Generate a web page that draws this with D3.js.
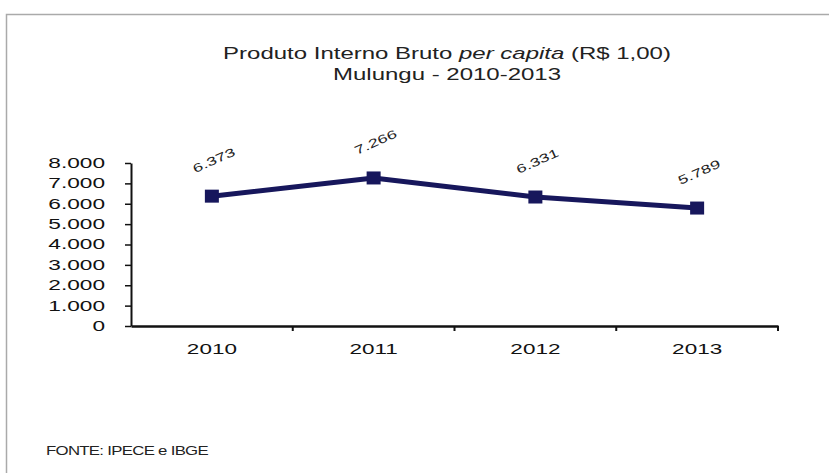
<!DOCTYPE html>
<html>
<head>
<meta charset="utf-8">
<script src="https://d3js.org/d3.v7.min.js"></script>
<style>
  body { margin: 0; background: #fff; }
  text { font-family: "Liberation Sans", Arial, sans-serif; }
</style>
</head>
<body>
<svg id="chart" width="829" height="473"></svg>
<script>
// data
var years = ["2010", "2011", "2012", "2013"];
var pibPerCapita = [6373, 7266, 6331, 5789];
var yTicks = [0, 1000, 2000, 3000, 4000, 5000, 6000, 7000, 8000];

var svg = d3.select("#chart");
var ptBR = d3.formatLocale({decimal: ",", thousands: ".", grouping: [3], currency: ["R$", ""]});
var fmt = ptBR.format(",.0f");
var sx = 1.5; // the original picture is stretched sideways

// frame
svg.append("rect")
   .attr("x", 6.5).attr("y", 14.5)
   .attr("width", 840).attr("height", 480)
   .attr("fill", "none").attr("stroke", "#aaa").attr("stroke-width", 1.5);

var plotLeft = 131, plotRight = 778, plotTop = 163, plotBottom = 326;

var x = d3.scaleBand().domain(years).range([plotLeft, plotRight]);
var y = d3.scaleLinear().domain([0, 8000]).range([plotBottom, plotTop]);

// title
var title = svg.append("text")
   .attr("transform", "translate(447,59) scale(" + sx + ",1)")
   .attr("text-anchor", "middle").attr("font-size", 16).attr("fill", "#222");
title.append("tspan").text("Produto Interno Bruto ");
title.append("tspan").attr("font-style", "italic").text("per capita");
title.append("tspan").text(" (R$ 1,00)");
svg.append("text")
   .attr("transform", "translate(447,80) scale(" + sx + ",1)")
   .attr("text-anchor", "middle").attr("font-size", 16).attr("fill", "#222")
   .text("Mulungu - 2010-2013");

// y axis
var ySx = 1.62;
var yAxis = svg.append("g")
   .attr("transform", "translate(" + plotLeft + ",0)")
   .call(d3.axisLeft(y).tickValues(yTicks).tickFormat(fmt).tickSize(6).tickSizeOuter(0));
yAxis.select(".domain").attr("stroke", "#111").attr("stroke-width", 2);
yAxis.selectAll(".tick line").attr("stroke", "#111").attr("stroke-width", 1.5);
yAxis.selectAll(".tick text").attr("font-size", 14).attr("fill", "#111")
   .attr("x", -26 / ySx).attr("transform", "scale(" + ySx + ",1)")
   .attr("font-family", "Liberation Sans, Arial, sans-serif");

// x axis
var xAxis = svg.append("g")
   .attr("transform", "translate(0," + plotBottom + ")")
   .call(d3.axisBottom(x).tickSize(0));
xAxis.select(".domain").attr("stroke", "#111").attr("stroke-width", 2.5);
xAxis.selectAll(".tick text").attr("font-size", 15).attr("fill", "#111")
   .attr("y", 17).attr("transform", "scale(" + sx + ",1)")
   .attr("font-family", "Liberation Sans, Arial, sans-serif");
// tick marks at band boundaries
var bounds = years.map(function(d) { return x(d) + x.bandwidth(); });
svg.selectAll("line.xtick").data(bounds).enter().append("line")
   .attr("class", "xtick")
   .attr("x1", function(d) { return d; }).attr("x2", function(d) { return d; })
   .attr("y1", plotBottom).attr("y2", plotBottom + 5)
   .attr("stroke", "#111").attr("stroke-width", 2);

var pts = years.map(function(d, i) { return {year: d, v: pibPerCapita[i]}; });
var cx = function(d) { return x(d.year) + x.bandwidth() / 2; };

// line
svg.append("path").datum(pts)
   .attr("fill", "none").attr("stroke", "#17175c").attr("stroke-width", 5)
   .attr("stroke-linejoin", "round")
   .attr("d", d3.line().x(cx).y(function(d) { return y(d.v); }));

// markers
svg.selectAll("rect.mk").data(pts).enter().append("rect")
   .attr("class", "mk")
   .attr("x", function(d) { return cx(d) - 7; })
   .attr("y", function(d) { return y(d.v) - 6.5; })
   .attr("width", 14).attr("height", 13)
   .attr("fill", "#17175c");

// value labels
svg.selectAll("text.lbl").data(pts).enter().append("text")
   .attr("class", "lbl")
   .attr("text-anchor", "middle").attr("dy", "0.35em")
   .attr("font-size", 12).attr("fill", "#222")
   .attr("transform", function(d) {
     return "translate(" + (cx(d) + 2) + "," + (y(d.v) - 36) + ") rotate(-24) scale(" + sx + ",1)";
   })
   .text(function(d) { return fmt(d.v); });

// source
svg.append("text")
   .attr("transform", "translate(46,455) scale(1.4,1)")
   .attr("font-size", 12).attr("fill", "#222").attr("letter-spacing", -0.5)
   .text("FONTE: IPECE e IBGE");
</script>
</body>
</html>
